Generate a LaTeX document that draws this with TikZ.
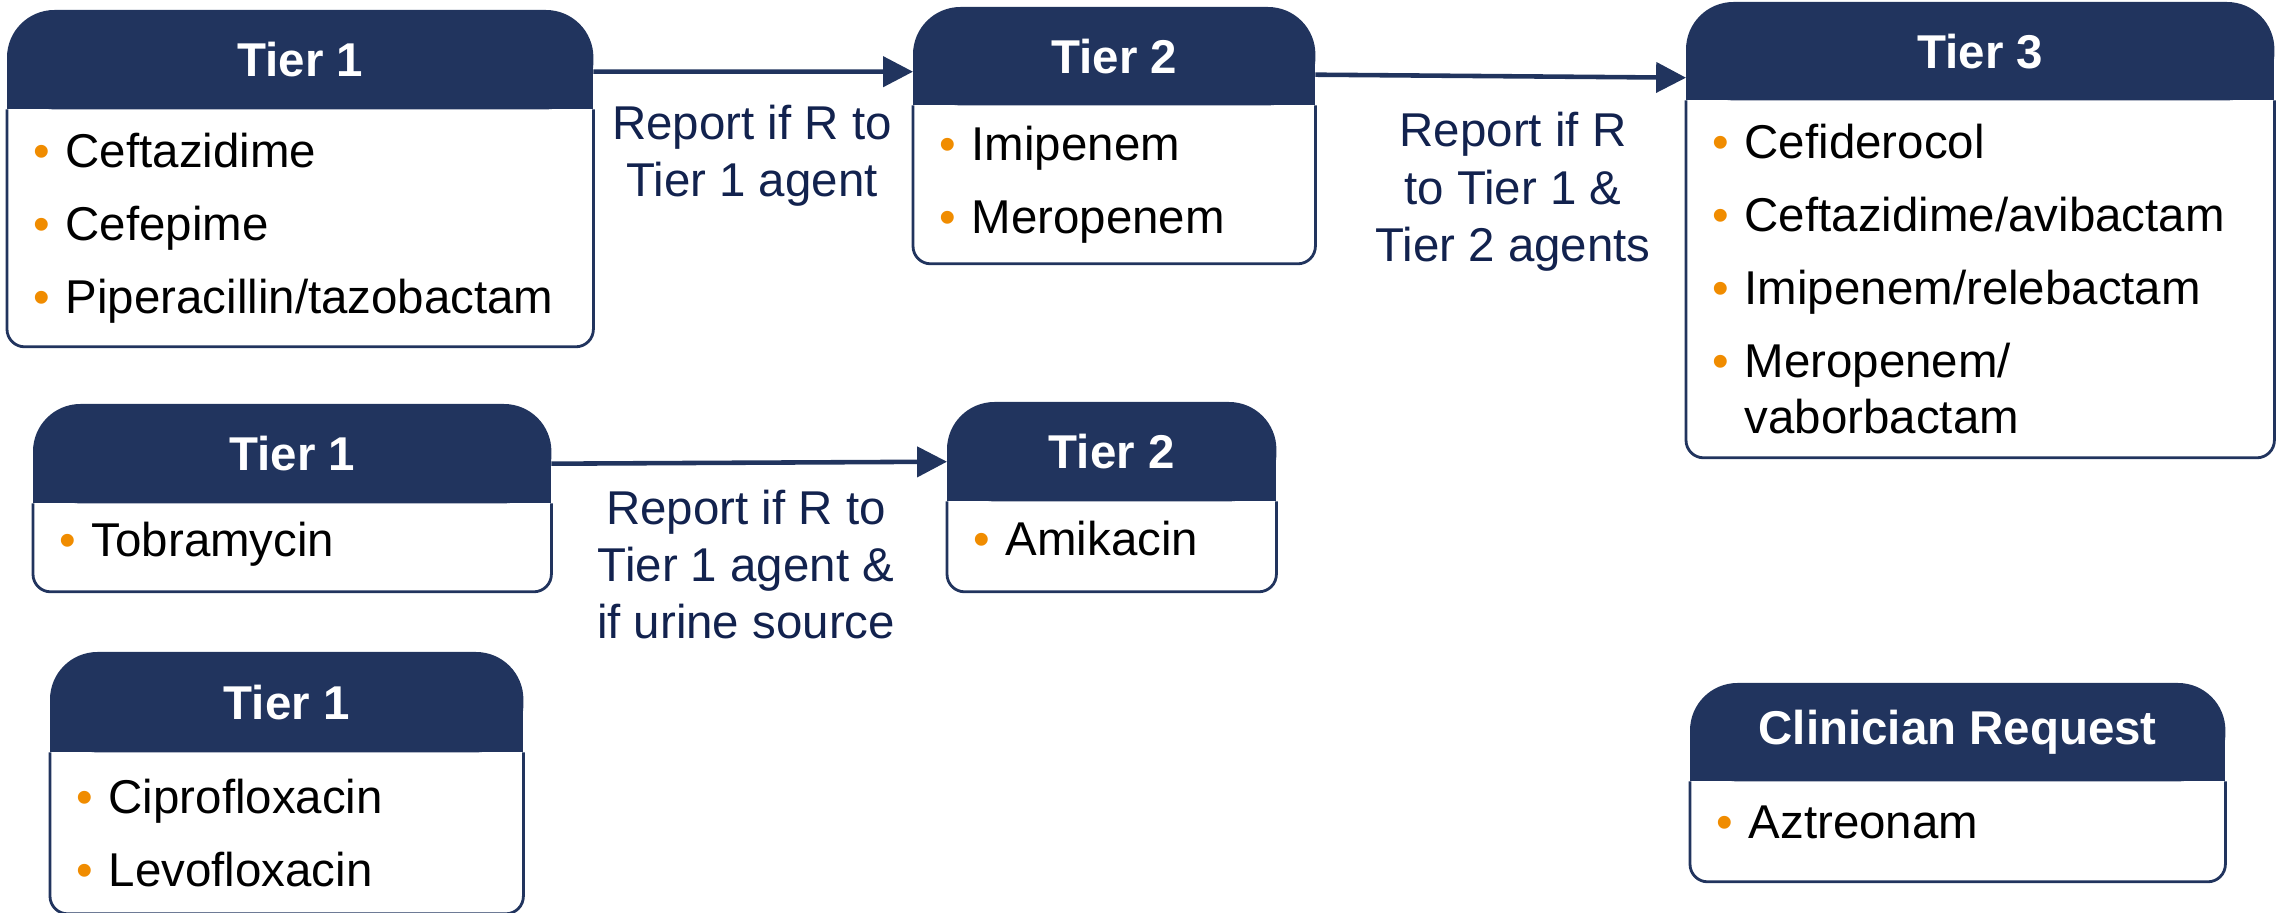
\documentclass[tikz,border=0pt]{standalone}
\usepackage{fontspec}
\setmainfont{Liberation Sans}
\usepackage{tikz}
\usetikzlibrary{positioning, arrows.meta, backgrounds}
\definecolor{navy}{RGB}{33,52,94}
\definecolor{labelblue}{RGB}{18,34,78}
\definecolor{dotorange}{RGB}{240,140,0}
\tikzstyle{tierhead} = [rectangle, text=white,
    font=\bfseries\fontsize{13.5}{16}\selectfont, anchor=north west, inner sep=0pt]
\tikzstyle{tierbody} = [rectangle, align=left, inner xsep=0.26cm, inner ysep=0pt,
    font=\fontsize{13.5}{16}\selectfont]
\tikzstyle{headfill} = [fill=navy, rounded corners=13.5pt]
\tikzstyle{rim} = [draw=navy, line width=0.8pt, rounded corners=5pt]
\tikzstyle{arrow} = [line width=1.3pt, draw=navy, -{Triangle[length=8.5pt,width=8.5pt]}]
\tikzstyle{report} = [align=center, text=labelblue, font=\fontsize{13.5}{16.3}\selectfont]
\newcommand{\drug}{\makebox[0.32cm][l]{\color{dotorange}\textbullet}}

\begin{document}
\begin{tikzpicture}
\useasboundingbox (0,0) rectangle (22.77,-9.13);
% beta-lactams
\node (hA) [tierhead, minimum width=5.85cm, minimum height=0.98cm] at (0.07,-0.10) {Tier 1};
\node (bA) [tierbody, below=0pt of hA, text width=5.33cm, minimum height=2.36cm]
    {\drug Ceftazidime\\[4.8pt]\drug Cefepime\\[4.8pt]\drug Piperacillin/tazobactam};
\node (hB) [tierhead, minimum width=4.01cm, minimum height=0.97cm] at (9.13,-0.07) {Tier 2};
\node (bB) [tierbody, below=0pt of hB, text width=3.49cm, minimum height=1.57cm]
    {\drug Imipenem\\[4.8pt]\drug Meropenem};
\node (hC) [tierhead, minimum width=5.87cm, minimum height=0.97cm] at (16.86,-0.02) {Tier 3};
\node (bC) [tierbody, below=0pt of hC, text width=5.35cm, minimum height=3.56cm]
    {\drug Cefiderocol\\[4.8pt]\drug Ceftazidime/avibactam\\[4.8pt]\drug Imipenem/relebactam\\[4.8pt]%
     \drug Meropenem/\\\hspace*{0.32cm}vaborbactam};
% aminoglycosides
\node (hD) [tierhead, minimum width=5.17cm, minimum height=0.98cm] at (0.33,-4.04) {Tier 1};
\node (bD) [tierbody, below=0pt of hD, text width=4.65cm, minimum height=0.87cm, text depth=4.6pt]
    {\drug Tobramycin};
\node (hE) [tierhead, minimum width=3.28cm, minimum height=0.98cm] at (9.47,-4.02) {Tier 2};
\node (bE) [tierbody, below=0pt of hE, text width=2.76cm, minimum height=0.89cm, text depth=4.6pt]
    {\drug Amikacin};
% fluoroquinolones
\node (hF) [tierhead, minimum width=4.72cm, minimum height=0.99cm] at (0.50,-6.52) {Tier 1};
\node (bF) [tierbody, below=0pt of hF, text width=4.20cm, minimum height=1.60cm]
    {\drug Ciprofloxacin\\[4.8pt]\drug Levofloxacin};
% on request
\node (hG) [tierhead, minimum width=5.34cm, minimum height=0.97cm] at (16.90,-6.83) {Clinician Request};
\node (bG) [tierbody, below=0pt of hG, text width=4.82cm, minimum height=0.99cm, text depth=5.6pt]
    {\drug Aztreonam};

\begin{scope}[on background layer]
\foreach \nm in {A,B,C,D,E,F,G} {
    \path[headfill] (h\nm.south west) rectangle (h\nm.north east);
    \fill[navy] (h\nm.west) rectangle (h\nm.south east);
    \draw[rim] (h\nm.south west) -- (b\nm.south west) -- (b\nm.south east) -- (h\nm.south east);
}
\end{scope}

\draw [arrow] ([yshift=-0.12cm]hA.east) -- ([yshift=-0.155cm]hB.west);
\draw [arrow] ([yshift=-0.185cm]hB.east) -- ([yshift=-0.265cm]hC.west);
\draw [arrow] ([yshift=-0.10cm]hD.east) -- ([yshift=-0.10cm]hE.west);

\node (rAB) [report] at (7.52,-1.555) {Report if R to\\Tier 1 agent};
\node (rBC) [report] at (15.13,-1.92) {Report if R\\to Tier 1 \&\\Tier 2 agents};
\node (rDE) [report] at (7.46,-5.645) {Report if R to\\Tier 1 agent \&\\if urine source};
\end{tikzpicture}
\end{document}
